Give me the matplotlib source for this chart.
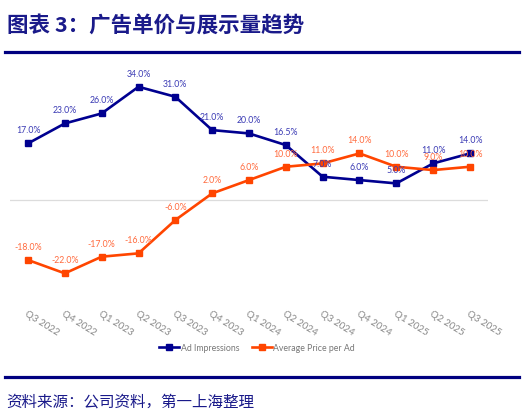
import matplotlib
matplotlib.use("Agg")
import matplotlib.pyplot as plt
from matplotlib.lines import Line2D

plt.rcParams['font.family'] = ['Lato', 'DejaVu Sans']

quarters = ["Q3 2022", "Q4 2022", "Q1 2023", "Q2 2023", "Q3 2023", "Q4 2023", "Q1 2024",
            "Q2 2024", "Q3 2024", "Q4 2024", "Q1 2025", "Q2 2025", "Q3 2025"]
ad_impressions = [17, 23, 26, 34, 31, 21, 20, 16.5, 7, 6, 5, 11, 14]
avg_price = [-18, -22, -17, -16, -6, 2, 6, 10, 11, 14, 10, 9, 10]

W, H = 525, 415
fig = plt.figure(figsize=(W / 100, H / 100), dpi=100)

blue = '#000090'
orange = '#FF4500'
blue_lbl = '#3a3ab4'
orange_lbl = '#ff6a3d'
navy = '#1a1a8a'

# axes placement (pixels)
left, right, top, bottom = 9.6, 488.4, 66.8, 300.0
ax = fig.add_axes([left / W, 1 - bottom / H, (right - left) / W, (bottom - top) / H])
x = list(range(len(quarters)))
ax.plot(x, ad_impressions, color=blue, lw=1.9, marker='s', ms=4.5, label='Ad Impressions', zorder=3)
ax.plot(x, avg_price, color=orange, lw=1.9, marker='s', ms=4.5, label='Average Price per Ad', zorder=3)
ax.axhline(0, color='#dcdcdc', lw=0.9, zorder=1)
ax.set_xlim(-0.5, 12.5)
ax.set_ylim(-30, 40)
for s in ax.spines.values():
    s.set_visible(False)
ax.set_yticks([])
ax.set_xticks(x)
ax.set_xticklabels(quarters, rotation=-32, ha='left', va='top', rotation_mode='anchor',
                   color='#888888', fontsize=7)
ax.tick_params(axis='x', length=0, pad=7)

for xi, v in zip(x, ad_impressions):
    ax.annotate(f"{v:.1f}%", (xi, v), xytext=(0, 9), textcoords='offset points',
                ha='center', va='center', fontsize=6.3, color=blue_lbl, zorder=4)
for xi, v in zip(x, avg_price):
    ax.annotate(f"{v:.1f}%", (xi, v), xytext=(0, 9), textcoords='offset points',
                ha='center', va='center', fontsize=6.3, color=orange_lbl, zorder=4)

handles = [Line2D([0], [0], color=blue, lw=1.9, marker='s', ms=4),
           Line2D([0], [0], color=orange, lw=1.9, marker='s', ms=4)]
leg = fig.legend(handles, ['Ad Impressions', 'Average Price per Ad'], loc='center',
                 bbox_to_anchor=(257 / W, 1 - 348 / H), ncol=2, frameon=False,
                 fontsize=6.3, handlelength=2.3, handletextpad=0.2, columnspacing=1.4)
for t in leg.get_texts():
    t.set_color('#777777')

cjk = ['Noto Sans CJK SC', 'DejaVu Sans']
fig.text(7 / W, 1 - 25 / H, "图表 3：广告单价与展示量趋势", family=cjk, fontsize=15.5,
         fontweight='bold', color=navy, ha='left', va='center')
fig.add_artist(Line2D([5 / W, 519 / W], [1 - 52 / H, 1 - 52 / H], color='#000080', lw=2.3))
fig.add_artist(Line2D([5 / W, 519 / W], [1 - 377 / H, 1 - 377 / H], color='#000080', lw=2.3))
fig.text(6 / W, 1 - 402 / H, "资料来源：公司资料，第一上海整理", family=cjk, fontsize=11.2,
         color=navy, ha='left', va='center')

fig.savefig('out.png', dpi=100)
